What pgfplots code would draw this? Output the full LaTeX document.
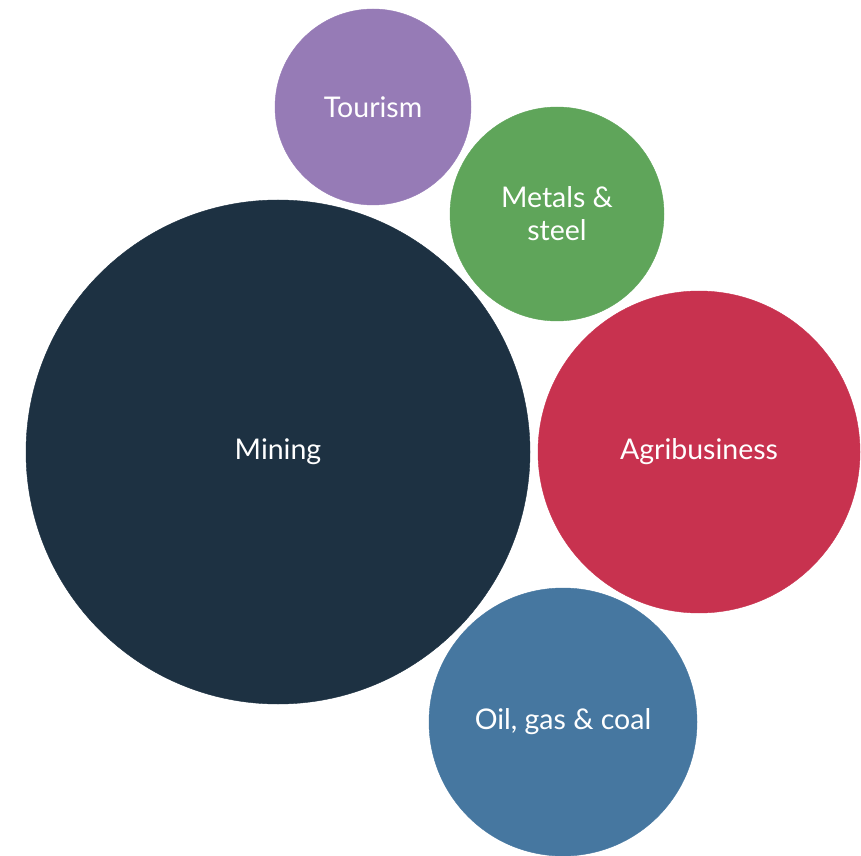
\documentclass[border=0pt]{standalone}
\usepackage{pgfplots}
\pgfplotsset{compat=1.18}
\usepackage{fontspec}
\setmainfont{Lato}
\definecolor{cMining}{HTML}{1D3142}
\definecolor{cTour}{HTML}{967BB6}
\definecolor{cMetal}{HTML}{5FA55A}
\definecolor{cAgri}{HTML}{C8324F}
\definecolor{cOil}{HTML}{4677A0}
\begin{document}
\begin{tikzpicture}
\begin{axis}[
  x=1pt, y=1pt,
  xmin=0, xmax=861, ymin=0, ymax=855,
  axis lines=none,
  clip=false,
  every node near coord/.append style={anchor=center, align=center, text=white, font=\fontsize{28.5}{33}\selectfont},
]
\addplot[only marks, mark=*, mark size=252pt, color=cMining, nodes near coords={Mining}] coordinates {(278,403)};
\addplot[only marks, mark=*, mark size=98pt, color=cTour, nodes near coords={Tourism}] coordinates {(373,748)};
\addplot[only marks, mark=*, mark size=107pt, color=cMetal, nodes near coords={Metals \&\\steel}] coordinates {(557,641)};
\addplot[only marks, mark=*, mark size=161pt, color=cAgri, nodes near coords={Agribusiness}] coordinates {(699,403)};
\addplot[only marks, mark=*, mark size=134pt, color=cOil, nodes near coords={Oil, gas \& coal}] coordinates {(563,133)};
\end{axis}
\pgfresetboundingbox
\path (current axis.south west) rectangle (current axis.north east);
\end{tikzpicture}
\end{document}
